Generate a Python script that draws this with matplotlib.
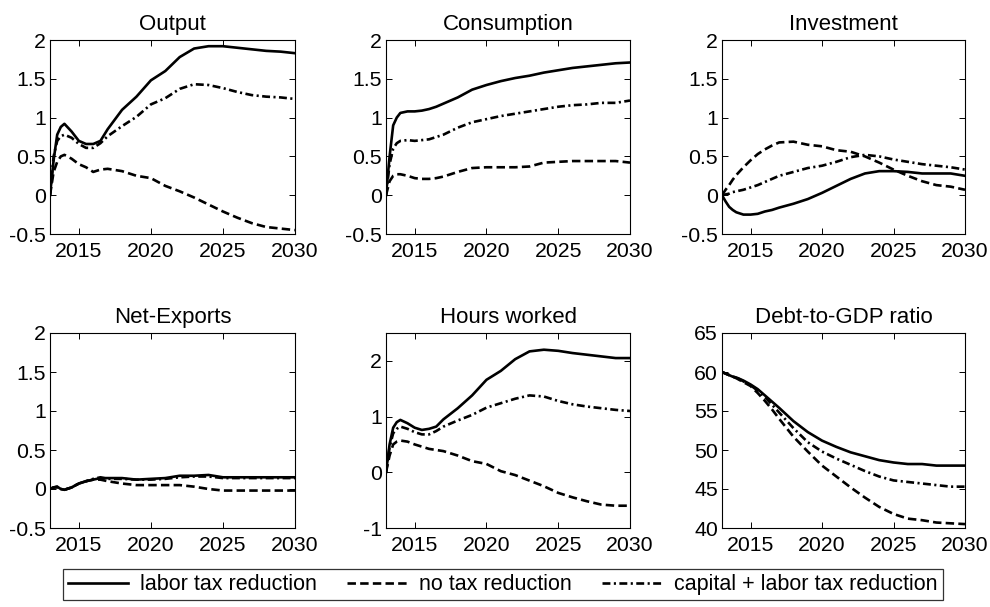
import matplotlib
matplotlib.use('Agg')
import matplotlib.pyplot as plt
import numpy as np

plt.rcParams['font.family'] = ['Liberation Sans', 'DejaVu Sans']

# time axis (years)
years = [2013, 2013.25, 2013.5, 2013.75, 2014, 2014.5, 2015, 2015.5, 2016, 2016.5,
         2017, 2018, 2019, 2020, 2021, 2022, 2023, 2024, 2025, 2026, 2027, 2028, 2029, 2030]

labels = ['labor tax reduction', 'no tax reduction', 'capital + labor tax reduction']
titles = ['Output', 'Consumption', 'Investment', 'Net-Exports', 'Hours worked', 'Debt-to-GDP ratio']

# labor tax reduction
output_labor = [0, 0.45, 0.78, 0.88, 0.92, 0.82, 0.70, 0.66, 0.66, 0.70, 0.85, 1.10, 1.27, 1.48,
                1.60, 1.78, 1.89, 1.92, 1.92, 1.90, 1.88, 1.86, 1.85, 1.83]
cons_labor = [0, 0.5, 0.9, 1.0, 1.06, 1.08, 1.08, 1.09, 1.11, 1.14, 1.18, 1.26, 1.36, 1.42,
              1.47, 1.51, 1.54, 1.58, 1.61, 1.64, 1.66, 1.68, 1.70, 1.71]
inv_labor = [0, -0.08, -0.15, -0.19, -0.22, -0.25, -0.25, -0.24, -0.21, -0.19, -0.16, -0.11, -0.05,
             0.03, 0.12, 0.21, 0.28, 0.31, 0.31, 0.30, 0.28, 0.28, 0.28, 0.25]
nx_labor = [0, 0.02, 0.03, 0.0, -0.01, 0.02, 0.07, 0.10, 0.12, 0.14, 0.14, 0.14, 0.12, 0.13,
            0.14, 0.17, 0.17, 0.18, 0.15, 0.15, 0.15, 0.15, 0.15, 0.15]
hours_labor = [0, 0.5, 0.8, 0.9, 0.94, 0.88, 0.80, 0.76, 0.78, 0.82, 0.95, 1.15, 1.38, 1.66,
               1.82, 2.03, 2.17, 2.20, 2.18, 2.14, 2.11, 2.08, 2.05, 2.05]
debt_labor = [60, 59.8, 59.6, 59.4, 59.3, 58.9, 58.4, 57.8, 57.0, 56.2, 55.4, 53.7, 52.3, 51.2,
              50.4, 49.7, 49.2, 48.7, 48.4, 48.2, 48.2, 48.0, 48.0, 48.0]

# no tax reduction
output_none = [0, 0.3, 0.43, 0.5, 0.52, 0.47, 0.40, 0.36, 0.30, 0.33, 0.34, 0.31, 0.25, 0.22,
               0.12, 0.05, -0.03, -0.12, -0.21, -0.29, -0.36, -0.41, -0.43, -0.45]
cons_none = [0, 0.18, 0.25, 0.27, 0.27, 0.25, 0.22, 0.21, 0.21, 0.22, 0.24, 0.30, 0.35, 0.36,
             0.36, 0.36, 0.37, 0.42, 0.43, 0.44, 0.44, 0.44, 0.44, 0.42]
inv_none = [0, 0.07, 0.13, 0.2, 0.26, 0.36, 0.45, 0.53, 0.59, 0.64, 0.68, 0.69, 0.65, 0.63,
            0.58, 0.56, 0.50, 0.42, 0.33, 0.25, 0.18, 0.13, 0.11, 0.07]
nx_none = [0, 0.02, 0.02, 0.0, -0.01, 0.02, 0.07, 0.10, 0.12, 0.12, 0.10, 0.07, 0.05, 0.05,
           0.05, 0.05, 0.03, 0.0, -0.02, -0.02, -0.02, -0.02, -0.02, -0.02]
hours_none = [0, 0.3, 0.5, 0.55, 0.57, 0.55, 0.50, 0.46, 0.42, 0.40, 0.38, 0.30, 0.20, 0.15,
              0.02, -0.05, -0.15, -0.25, -0.37, -0.45, -0.52, -0.58, -0.60, -0.60]
debt_none = [60, 59.8, 59.6, 59.4, 59.2, 58.7, 58.2, 57.3, 56.3, 55.2, 54.0, 51.7, 49.8, 48.0,
             46.6, 45.2, 43.9, 42.7, 41.8, 41.2, 41.0, 40.7, 40.6, 40.5]

# capital + labor tax reduction
output_both = [0, 0.5, 0.7, 0.76, 0.78, 0.74, 0.66, 0.61, 0.61, 0.67, 0.76, 0.89, 1.01, 1.17,
               1.25, 1.37, 1.43, 1.42, 1.38, 1.33, 1.29, 1.27, 1.26, 1.24]
cons_both = [0, 0.4, 0.6, 0.67, 0.70, 0.71, 0.70, 0.71, 0.72, 0.75, 0.78, 0.87, 0.94, 0.98,
             1.02, 1.05, 1.08, 1.11, 1.14, 1.16, 1.17, 1.19, 1.19, 1.22]
inv_both = [0, 0.01, 0.02, 0.04, 0.05, 0.07, 0.10, 0.13, 0.17, 0.21, 0.25, 0.30, 0.35, 0.38,
            0.43, 0.49, 0.52, 0.50, 0.46, 0.43, 0.40, 0.38, 0.36, 0.33]
nx_both = [0, 0.02, 0.03, 0.0, -0.01, 0.02, 0.07, 0.10, 0.13, 0.15, 0.13, 0.13, 0.12, 0.12,
           0.13, 0.15, 0.16, 0.16, 0.14, 0.14, 0.14, 0.14, 0.14, 0.14]
hours_both = [0, 0.45, 0.7, 0.78, 0.82, 0.78, 0.72, 0.68, 0.68, 0.74, 0.82, 0.93, 1.03, 1.16,
              1.24, 1.32, 1.38, 1.36, 1.28, 1.22, 1.18, 1.15, 1.12, 1.10]
debt_both = [60, 59.8, 59.6, 59.4, 59.3, 58.8, 58.3, 57.6, 56.8, 55.8, 54.8, 52.8, 51.0, 49.8,
             48.9, 48.1, 47.3, 46.6, 46.1, 45.9, 45.7, 45.5, 45.3, 45.3]

panels = [
    (output_labor, output_none, output_both, (-0.5, 2), [-0.5, 0, 0.5, 1, 1.5, 2]),
    (cons_labor, cons_none, cons_both, (-0.5, 2), [-0.5, 0, 0.5, 1, 1.5, 2]),
    (inv_labor, inv_none, inv_both, (-0.5, 2), [-0.5, 0, 0.5, 1, 1.5, 2]),
    (nx_labor, nx_none, nx_both, (-0.5, 2), [-0.5, 0, 0.5, 1, 1.5, 2]),
    (hours_labor, hours_none, hours_both, (-1, 2.5), [-1, 0, 1, 2]),
    (debt_labor, debt_none, debt_both, (40, 65), [40, 45, 50, 55, 60, 65]),
]

# axes boxes in pixels: left, right, top, bottom
W, H = 990, 607
cols = [(50, 295), (386, 630), (722, 965)]
rows = [(40, 234), (333, 528)]

fig = plt.figure(figsize=(9.9, 6.07), dpi=100)
lines = []
for i, (lab, none, both, ylim, yt) in enumerate(panels):
    l, r = cols[i % 3]
    t, b = rows[i // 3]
    ax = fig.add_axes([l / W, 1 - b / H, (r - l) / W, (b - t) / H])
    h1, = ax.plot(years, lab, color='black', lw=1.9, ls='-')
    h2, = ax.plot(years, none, color='black', lw=1.9, ls=(0, (3.2, 1.6)))
    h3, = ax.plot(years, both, color='black', lw=1.9, ls=(0, (3, 1.3, 0.8, 1.3)))
    lines = [h1, h2, h3]
    ax.set_xlim(2013, 2030)
    ax.set_ylim(*ylim)
    ax.set_xticks([2015, 2020, 2025, 2030])
    ax.set_yticks(yt)
    ax.set_yticklabels([('%g' % v) for v in yt])
    ax.tick_params(direction='in', top=True, right=True, length=4, width=0.7, labelsize=15.3)
    ax.tick_params(axis='x', pad=6)
    ax.tick_params(axis='y', pad=3)
    for s in ax.spines.values():
        s.set_linewidth(0.8)
    ax.set_title(titles[i], fontsize=16, pad=7)

leg = fig.legend(lines, labels, loc='center', bbox_to_anchor=(0.508, 0.037), ncol=3,
                 fontsize=15.5, frameon=True, fancybox=False, edgecolor='black',
                 handlelength=2.8, handletextpad=0.55, columnspacing=1.4, borderpad=0.25,
                 borderaxespad=0)
leg.get_frame().set_linewidth(0.9)

fig.savefig('out.png', dpi=100)
